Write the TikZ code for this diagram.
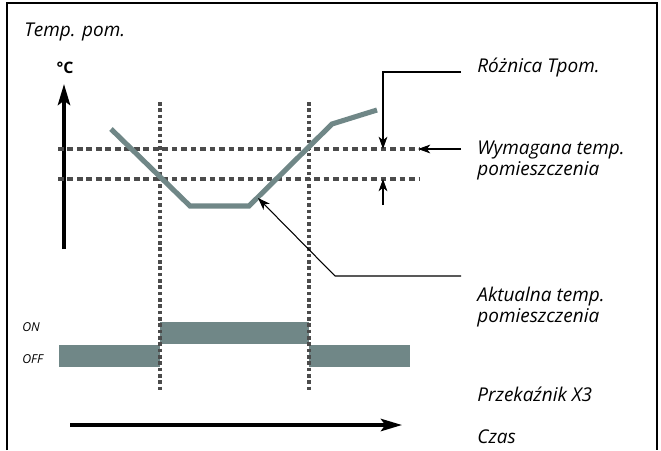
\documentclass[tikz,border=0pt]{standalone}
\usepackage{fontspec}
\setmainfont{Open Sans}
\usepackage{tikz}
\usetikzlibrary{positioning}
\usetikzlibrary{arrows.meta}
\definecolor{curvegrey}{RGB}{112,135,135}
\definecolor{gridgrey}{RGB}{75,75,75}
\tikzset{
	x=0.02cm, y=-0.02cm,
	lbl/.style = {font=\itshape\fontsize{10.8}{11.9}\selectfont, inner sep=0pt, anchor=base west, align=left},
	small/.style = {font=\itshape\fontsize{7}{8}\selectfont, inner sep=0pt, anchor=base west},
	axis/.style = {line width=2.1pt, -{Stealth[length=12pt,width=7pt,inset=2.5pt]}},
	fine/.style = {line width=0.6pt},
	tip/.style = {fine, -{Stealth[length=7pt,width=5pt,inset=2pt]}},
	gridh/.style = {gridgrey, line width=2pt, dash pattern=on 3.2pt off 2.2pt},
	gridv/.style = {gridgrey, line width=2pt, dash pattern=on 2pt off 1.6pt},
	relay/.style = {fill=curvegrey, draw=none},
	curve/.style = {curvegrey, line width=2.9pt},
}

\begin{document}
\begin{tikzpicture}
	\useasboundingbox (0,0) rectangle (661,450);
	\draw[line width=0.9pt] (7,450) -- (7,3) -- (657,3) -- (657,450);

	% labels
	\node (tpom) [lbl] at (24,36) {Temp. pom.};
	\node (degc) [font=\bfseries\fontsize{9}{10}\selectfont, inner sep=0pt] at (65,68) {°C};
	\node (roznica) [lbl] at (477,72) {Różnica Tpom.};
	\node (wymagana) [lbl] at (477,175) {Wymagana temp.\\pomieszczenia};
	\node (aktualna) [lbl] at (477,322) {Aktualna temp.\\pomieszczenia};
	\node (on) [small] at (22,331) {ON};
	\node (off) [small] at (22,363) {OFF};
	\node (relay) [lbl] at (477,401) {Przekaźnik X3};
	\node (czas) [lbl] at (477,443) {Czas};

	% axes
	\coordinate (ybot) at (64,249);
	\coordinate (ytop) at (64,84);
	\coordinate (t0) at (70,425);
	\coordinate (t1) at (402,425);
	\draw[axis] (ybot) -- (ytop);
	\draw[axis] (t0) -- (t1);

	% relay state
	\fill[relay] (59,345) rectangle (160,367);
	\fill[relay] (160,322) rectangle (309,344);
	\fill[relay] (309,345) rectangle (410,367);

	% grid
	\coordinate (h1a) at (58,149);
	\coordinate (h1b) at (420,149);
	\coordinate (h2a) at (58,179);
	\coordinate (h2b) at (420,179);
	\coordinate (v1a) at (160,102);
	\coordinate (v1b) at (160,390);
	\coordinate (v2a) at (309,102);
	\coordinate (v2b) at (309,390);
	\draw[gridh] (h1a) -- (h1b);
	\draw[gridh] (h2a) -- (h2b);
	\draw[gridv] (v1a) -- (v1b);
	\draw[gridv] (v2a) -- (v2b);

	% room temperature
	\coordinate (c0) at (111,129);
	\coordinate (c1) at (190,206);
	\coordinate (c2) at (249,206);
	\coordinate (c3) at (332,124);
	\coordinate (c4) at (377,110);
	\draw[curve] (c0) -- (c1) -- (c2) -- (c3) -- (c4);

	% pointers
	\coordinate (rzend) at (461,72);
	\coordinate (rzup) at (383,149);
	\coordinate (rzlow) at (383,205);
	\coordinate (rzdn) at (383,179);
	\draw[tip] (rzend) -| (rzup);
	\draw[tip] (rzlow) -- (rzdn);
	\coordinate (wmend) at (461,149);
	\coordinate (wmtip) at (418,149);
	\draw[tip] (wmend) -- (wmtip);
	\coordinate (akend) at (461,276);
	\coordinate (akbend) at (335,276);
	\coordinate (aktip) at (258,198);
	\draw[tip] (akend) -- (akbend) -- (aktip);
\end{tikzpicture}
\end{document}
